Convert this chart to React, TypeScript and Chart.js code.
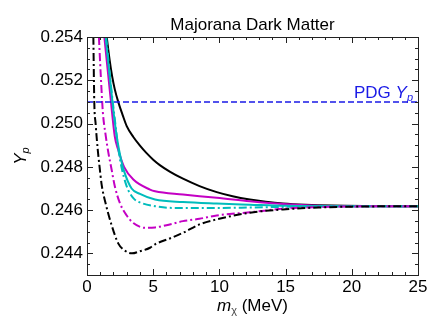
import React, { useEffect, useRef } from "react";
import { Chart, registerables } from "chart.js";

Chart.register(...registerables);

// ---- Data ----
const blackSolidX = [1.49, 1.7, 1.9, 2.1, 2.37, 2.7, 3.0, 3.5, 4.0, 4.5, 5.0, 5.5, 6.25, 7.25, 8.5, 9.8, 11, 12.3, 13.5, 14.8, 16.5, 18.5, 21, 25];
const blackSolidY = [0.254, 0.25298, 0.25218, 0.25158, 0.25098, 0.25038, 0.24988, 0.24938, 0.24898, 0.24863, 0.24833, 0.24808, 0.24778, 0.24745, 0.24711, 0.24683, 0.24664, 0.24649, 0.24639, 0.24631, 0.24625, 0.24621, 0.24619, 0.24618];

const magentaSolidX = [1.31, 1.81, 2.1, 2.35, 2.8, 3.5, 4.76, 5.14, 7.25, 8.5, 9.8, 12.3, 14.8, 17.5, 20, 25];
const magentaSolidY = [0.254, 0.251, 0.2494, 0.2488, 0.248, 0.24741, 0.24695, 0.24687, 0.24672, 0.24664, 0.24657, 0.24641, 0.24628, 0.2462, 0.24618, 0.24618];

const cyanSolidX = [1.41, 1.75, 2.05, 2.3, 2.55, 2.8, 3.37, 4.0, 5.14, 7.25, 9.8, 12.3, 15, 20, 25];
const cyanSolidY = [0.254, 0.252, 0.2503, 0.2492, 0.2484, 0.2478, 0.247, 0.24675, 0.24649, 0.24637, 0.2463, 0.24625, 0.2462, 0.24618, 0.24618];

const cyanDashX = [1.45, 1.8, 2.1, 2.35, 2.6, 3.0, 3.5, 4.25, 5.14, 6.5, 8.5, 10, 12.3, 15, 20, 25];
const cyanDashY = [0.254, 0.2518, 0.2502, 0.2489, 0.248, 0.2471, 0.24655, 0.2463, 0.24618, 0.2461, 0.2461, 0.2461, 0.24612, 0.24615, 0.24618, 0.24618];

const magentaDashX = [0.9, 1.05, 1.2, 1.4, 1.6, 1.85, 2.1, 2.5, 3.0, 3.5, 4.4, 5.14, 6.0, 7.25, 8.5, 9.8, 12.3, 14.8, 17.5, 20, 25];
const magentaDashY = [0.254, 0.2521, 0.2505, 0.2495, 0.2487, 0.2479, 0.2471, 0.2463, 0.24575, 0.2454, 0.24518, 0.2452, 0.2453, 0.24549, 0.2456, 0.24575, 0.2459, 0.24606, 0.24614, 0.24617, 0.24618];

const blackDashX = [0.48, 0.55, 0.65, 0.81, 0.95, 1.1, 1.41, 1.86, 2.37, 2.8, 3.4, 4.0, 4.76, 5.14, 6.3, 7.25, 8.5, 9.8, 12.3, 14.8, 17.5, 20, 25];
const blackDashY = [0.254, 0.251, 0.25, 0.2488, 0.248, 0.2472, 0.2463, 0.2453, 0.24445, 0.24415, 0.244, 0.2441, 0.24426, 0.24442, 0.2447, 0.24495, 0.24534, 0.24557, 0.24588, 0.24603, 0.24612, 0.24616, 0.24618];

const pdgX = [0, 25];
const pdgY = [0.251, 0.251];

const xTicks = [0, 5, 10, 15, 20, 25];
const yTicks = [0.244, 0.246, 0.248, 0.25, 0.252, 0.254];

const FONT = "'Liberation Sans', Arial, Helvetica, sans-serif";

const pts = (xs: number[], ys: number[]) => xs.map((x, i) => ({ x, y: ys[i] }));

const decorPlugin = {
  id: "decor",
  afterDraw(chart: any) {
    const { ctx, chartArea: a, scales } = chart;
    const xs = scales.x;
    const ys = scales.y;
    ctx.save();
    // frame
    ctx.strokeStyle = "#222";
    ctx.lineWidth = 1;
    ctx.strokeRect(Math.round(a.left) + 0.5, Math.round(a.top) + 0.5, Math.round(a.right - a.left), Math.round(a.bottom - a.top));
    // ticks
    ctx.beginPath();
    for (let v = 0; v <= 25.0001; v += 1) {
      const px = Math.round(xs.getPixelForValue(v)) + 0.5;
      const len = Math.abs(v % 5) < 1e-6 ? 6 : 3;
      ctx.moveTo(px, a.bottom);
      ctx.lineTo(px, a.bottom - len);
      ctx.moveTo(px, a.top);
      ctx.lineTo(px, a.top + len);
    }
    for (let i = 0; i <= 22; i++) {
      const v = 0.243 + i * 0.0005;
      const py = Math.round(ys.getPixelForValue(v)) + 0.5;
      const major = i >= 2 && (i - 2) % 4 === 0;
      const len = major ? 6 : 3;
      ctx.moveTo(a.left, py);
      ctx.lineTo(a.left + len, py);
      ctx.moveTo(a.right, py);
      ctx.lineTo(a.right - len, py);
    }
    ctx.stroke();

    ctx.fillStyle = "#000";
    // title
    ctx.font = `17px ${FONT}`;
    ctx.textAlign = "center";
    ctx.textBaseline = "middle";
    ctx.fillText("Majorana Dark Matter", (a.left + a.right) / 2, 25);

    // x title: m_chi (MeV)
    const cx = (a.left + a.right) / 2;
    const baseY = 311;
    ctx.textBaseline = "alphabetic";
    ctx.textAlign = "left";
    ctx.font = `italic 17px ${FONT}`;
    const mW = ctx.measureText("m").width;
    ctx.font = `11px ${FONT}`;
    const chiW = ctx.measureText("\u03C7").width;
    ctx.font = `17px ${FONT}`;
    const restW = ctx.measureText(" (MeV)").width;
    let sx = cx - (mW + chiW + restW) / 2;
    ctx.font = `italic 17px ${FONT}`;
    ctx.fillText("m", sx, baseY);
    sx += mW;
    ctx.font = `11px ${FONT}`;
    ctx.fillStyle = "#444";
    ctx.fillText("\u03C7", sx, baseY + 3);
    ctx.fillStyle = "#000";
    sx += chiW;
    ctx.font = `17px ${FONT}`;
    ctx.fillText(" (MeV)", sx, baseY);

    // y title: Y_p rotated
    ctx.save();
    ctx.translate(26, (a.top + a.bottom) / 2);
    ctx.rotate(-Math.PI / 2);
    ctx.font = `italic 17px ${FONT}`;
    const yW = ctx.measureText("Y").width;
    ctx.font = `italic 11px ${FONT}`;
    const pW = ctx.measureText("p").width;
    ctx.font = `italic 17px ${FONT}`;
    ctx.fillText("Y", -(yW + pW) / 2, 0);
    ctx.font = `italic 11px ${FONT}`;
    ctx.fillText("p", -(yW + pW) / 2 + yW, 3);
    ctx.restore();

    // PDG label
    ctx.fillStyle = "#1a1ae6";
    const ly = ys.getPixelForValue(0.251) - 4;
    ctx.font = `italic 11px ${FONT}`;
    const pW2 = ctx.measureText("p").width;
    ctx.font = `italic 17px ${FONT}`;
    const YW2 = ctx.measureText("Y").width;
    ctx.font = `17px ${FONT}`;
    const pdgW = ctx.measureText("PDG ").width;
    let lx = a.right - 5 - (pdgW + YW2 + pW2);
    ctx.fillText("PDG ", lx, ly);
    lx += pdgW;
    ctx.font = `italic 17px ${FONT}`;
    ctx.fillText("Y", lx, ly);
    lx += YW2;
    ctx.font = `italic 11px ${FONT}`;
    ctx.fillText("p", lx, ly + 3);
    ctx.restore();
  },
};

const MAGENTA = "#c400c4";
const CYAN = "#00bcbc";
const DASHDOT = [8, 3, 2, 3];

export default function App() {
  const ref = useRef<HTMLCanvasElement | null>(null);
  useEffect(() => {
    document.body.style.margin = "0";
    const line = (label: string, xs: number[], ys: number[], color: string, dash: number[]) => ({
      label,
      data: pts(xs, ys),
      borderColor: color,
      backgroundColor: color,
      borderWidth: 2,
      borderDash: dash,
      pointRadius: 0,
      fill: false,
      cubicInterpolationMode: "monotone" as const,
    });
    const chart = new Chart(ref.current as HTMLCanvasElement, {
      type: "line",
      data: {
        datasets: [
          { ...line("PDG", pdgX, pdgY, "#1a1ae6", [6, 3]), borderWidth: 1.5 },
          line("black dash-dot", blackDashX, blackDashY, "#000", DASHDOT),
          line("magenta dash-dot", magentaDashX, magentaDashY, MAGENTA, DASHDOT),
          line("cyan dash-dot", cyanDashX, cyanDashY, CYAN, DASHDOT),
          line("cyan solid", cyanSolidX, cyanSolidY, CYAN, []),
          line("magenta solid", magentaSolidX, magentaSolidY, MAGENTA, []),
          line("black solid", blackSolidX, blackSolidY, "#000", []),
        ],
      },
      options: {
        animation: false,
        responsive: true,
        maintainAspectRatio: false,
        layout: { padding: { top: 37, right: 29, left: 0, bottom: 0 } },
        plugins: { legend: { display: false }, tooltip: { enabled: false }, title: { display: false } },
        scales: {
          x: {
            type: "linear",
            min: 0,
            max: 25,
            grid: { display: false, drawTicks: false },
            border: { display: false },
            afterBuildTicks: (s: any) => {
              s.ticks = xTicks.map((v) => ({ value: v }));
            },
            afterFit: (s: any) => {
              s.height = 60;
            },
            ticks: {
              color: "#000",
              padding: 2,
              maxRotation: 0,
              font: { family: FONT, size: 17 },
              callback: (v: any) => String(v),
            },
          },
          y: {
            type: "linear",
            min: 0.243,
            max: 0.254,
            grid: { display: false, drawTicks: false },
            border: { display: false },
            afterBuildTicks: (s: any) => {
              s.ticks = yTicks.map((v) => ({ value: v }));
            },
            afterFit: (s: any) => {
              s.width = 87;
            },
            ticks: {
              color: "#000",
              padding: 4,
              font: { family: FONT, size: 17 },
              callback: (v: any) => Number(v).toFixed(3),
            },
          },
        },
      },
      plugins: [decorPlugin],
    });
    return () => chart.destroy();
  }, []);
  return (
    <div style={{ position: "absolute", left: 0, top: 0, width: 447, height: 335, background: "#fff" }}>
      <canvas ref={ref} />
    </div>
  );
}
